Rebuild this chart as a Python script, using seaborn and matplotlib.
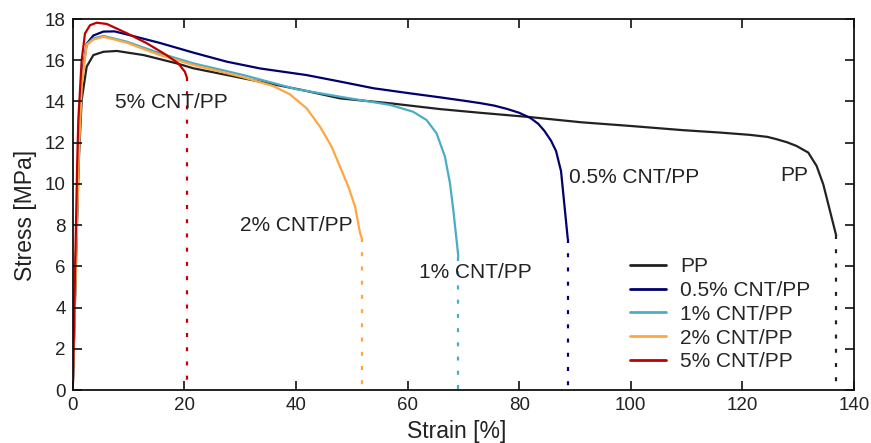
import matplotlib
matplotlib.use("Agg")
import matplotlib.pyplot as plt
import seaborn as sns
import pandas as pd

# Tensile stress-strain curves of PP and CNT/PP composites
series_names = ["PP", "0.5% CNT/PP", "1% CNT/PP", "2% CNT/PP", "5% CNT/PP"]

pp_strain = [0, 0.6, 1.1, 1.6, 2.5, 3.7, 5.5, 7.9, 12.7, 18.6, 21.6, 30.6, 41.0,
             47.9, 56.9, 65.8, 73.0, 82.0, 91.1, 100.0, 109.2, 116.0, 121.3, 124.5,
             126.1, 128.0, 129.7, 131.8, 133.3, 134.5, 136.8]
pp_stress = [0, 6.5, 11.2, 14.07, 15.69, 16.25, 16.41, 16.45, 16.25, 15.85, 15.61,
             15.12, 14.56, 14.15, 13.91, 13.63, 13.45, 13.24, 12.99, 12.81, 12.61,
             12.49, 12.38, 12.28, 12.17, 12.02, 11.84, 11.52, 10.87, 9.97, 7.5]

cnt05_strain = [0, 0.6, 1.1, 1.6, 2.5, 3.7, 5.5, 7.5, 9.7, 15.6, 21.6, 27.6, 33.6,
                41.9, 48.0, 53.9, 60.0, 65.8, 70.0, 73.0, 75.5, 77.8, 80.0, 82.0,
                83.4, 84.5, 85.7, 86.6, 87.5, 88.7]
cnt05_stress = [0, 6.8, 12.0, 15.2, 16.8, 17.2, 17.39, 17.4, 17.25, 16.84, 16.37,
                15.93, 15.6, 15.28, 14.96, 14.64, 14.41, 14.2, 14.04, 13.92, 13.8,
                13.64, 13.45, 13.2, 12.92, 12.58, 12.1, 11.6, 10.62, 7.35]

cnt1_strain = [0, 0.6, 1.1, 1.6, 2.5, 3.7, 5.5, 9.7, 15.6, 21.6, 30.6, 40.0, 47.9,
               56.9, 61.0, 63.4, 65.2, 66.7, 67.6, 68.2, 69.1]
cnt1_stress = [0, 6.5, 11.8, 15.0, 16.78, 17.06, 17.18, 16.9, 16.34, 15.85, 15.28,
               14.6, 14.23, 13.83, 13.5, 13.1, 12.45, 11.32, 10.03, 8.73, 6.47]

cnt2_strain = [0, 0.6, 1.1, 1.6, 2.5, 3.7, 5.5, 9.7, 15.6, 21.6, 30.6, 35.9, 38.9,
               41.9, 44.3, 46.4, 47.9, 49.4, 50.6, 51.5, 51.8]
cnt2_stress = [0, 6.3, 11.5, 14.8, 16.74, 17.0, 17.14, 16.85, 16.25, 15.77, 15.17,
               14.75, 14.35, 13.67, 12.78, 11.8, 10.83, 9.86, 8.89, 7.6, 7.36]

cnt5_strain = [0, 0.4, 0.8, 1.0, 1.6, 2.2, 3.1, 4.3, 6.1, 9.7, 13.3, 16.8, 18.9,
               20.1, 20.4]
cnt5_stress = [0, 5.5, 11.0, 13.1, 16.0, 17.3, 17.7, 17.82, 17.76, 17.31, 16.82,
               16.25, 15.85, 15.44, 15.2]

x_ticks = [0, 20, 40, 60, 80, 100, 120, 140]
y_ticks = [0, 2, 4, 6, 8, 10, 12, 14, 16, 18]

colors = ["#222222", "#00006e", "#4bacc6", "#ffa640", "#c00000"]

# Curve-end labels: (text, strain, stress) anchor of the left edge
label_text = ["5% CNT/PP", "2% CNT/PP", "1% CNT/PP", "0.5% CNT/PP", "PP"]
label_x = [7.6, 30.0, 62.1, 88.9, 126.8]
label_y = [13.93, 7.96, 5.68, 10.29, 10.43]

strains = [pp_strain, cnt05_strain, cnt1_strain, cnt2_strain, cnt5_strain]
stresses = [pp_stress, cnt05_stress, cnt1_stress, cnt2_stress, cnt5_stress]

frames = []
for name, xs, ys in zip(series_names, strains, stresses):
    frames.append(pd.DataFrame({"strain": xs, "stress": ys, "sample": name}))
df = pd.concat(frames, ignore_index=True)

sns.set_style("ticks")
plt.rcParams.update({
    "font.family": ["Liberation Sans", "DejaVu Sans"],
    "xtick.direction": "in", "ytick.direction": "in",
    "xtick.top": True, "ytick.right": True,
    "xtick.bottom": True, "ytick.left": True,
    "xtick.major.size": 6.5, "ytick.major.size": 6.5,
    "xtick.major.width": 1.2, "ytick.major.width": 1.2,
    "xtick.color": "#111111", "ytick.color": "#111111",
    "xtick.labelcolor": "#222222", "ytick.labelcolor": "#222222",
    "axes.axisbelow": False,
})

fig = plt.figure(figsize=(8.71, 4.43), dpi=100)
ax = fig.add_axes([0.0835, 0.1196, 0.897, 0.8375])

sns.lineplot(data=df, x="strain", y="stress", hue="sample", hue_order=series_names,
             palette=colors, sort=False, estimator=None, units="sample",
             linewidth=1.6, ax=ax)

# dotted drop lines from the fracture point to zero stress
for name, xs, ys, c in zip(series_names, strains, stresses, colors):
    ax.plot([xs[-1], xs[-1]], [ys[-1], 0], color=c, linewidth=1.6,
            linestyle=(0, (1.8, 4.6)))

for t, lx, ly in zip(label_text, label_x, label_y):
    ax.text(lx, ly, t, fontsize=15, color="#222222", ha="left", va="center")

ax.set_xlim(0, 140)
ax.set_ylim(0, 18)
ax.set_xticks(x_ticks)
ax.set_yticks(y_ticks)
ax.tick_params(axis="both", which="major", direction="in", length=6.5, width=1.2,
               bottom=True, left=True, top=True, right=True,
               labelsize=13.5, pad=5)
ax.set_axisbelow(False)
for s in ax.spines.values():
    s.set_visible(True)
    s.set_linewidth(1.3)
    s.set_color("#111111")

ax.set_xlabel("Strain [%]", fontsize=16.5, color="#222222")
ax.set_ylabel("Stress [MPa]", fontsize=16.5, color="#222222")
ax.xaxis.set_label_coords(0.492, -0.080)
ax.yaxis.set_label_coords(-0.046, 0.47)

leg = ax.legend(loc="lower right", bbox_to_anchor=(0.963, 0.011), frameon=False,
                fontsize=15, handlelength=1.7, handletextpad=0.7,
                labelspacing=0.23, borderaxespad=0.3)
for line in leg.get_lines():
    line.set_linewidth(2)

fig.savefig("out.png", dpi=100)
